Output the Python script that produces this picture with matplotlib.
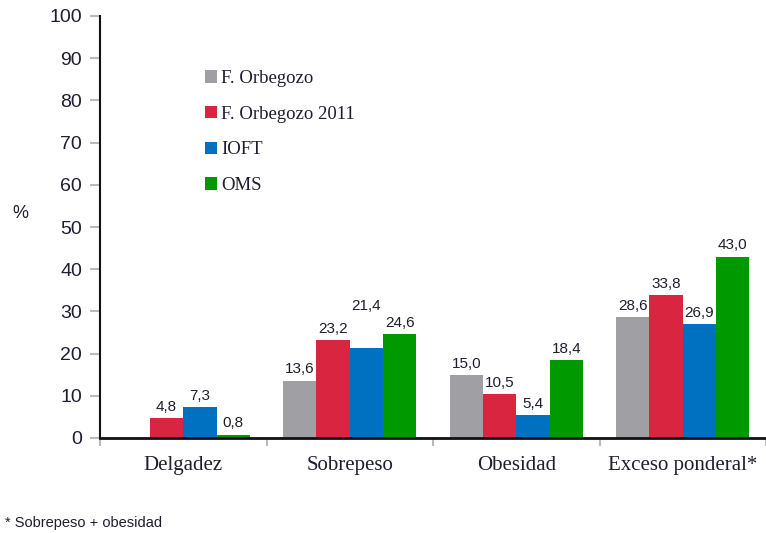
import numpy as np
import matplotlib
matplotlib.use("Agg")
import matplotlib.pyplot as plt

# datos (%), NaN = sin dato
categorias = ["Delgadez", "Sobrepeso", "Obesidad", "Exceso ponderal*"]
series = ["F. Orbegozo", "F. Orbegozo 2011", "IOFT", "OMS"]
f_orbegozo = [np.nan, 13.6, 15.0, 28.6]
f_orbegozo_2011 = [4.8, 23.2, 10.5, 33.8]
ioft = [7.3, 21.4, 5.4, 26.9]
oms = [0.8, 24.6, 18.4, 43.0]
valores = [f_orbegozo, f_orbegozo_2011, ioft, oms]
colores = ["#A09FA3", "#DA2540", "#0070C0", "#009A00"]

# etiqueta que va desplazada hacia arriba para no pisar las vecinas
desplazar = {(2, 1): 22}

texto = "#1E1E2E"
serif = "Liberation Serif"
sans = "Liberation Sans"

W, H = 766, 533
fig = plt.figure(figsize=(W / 100, H / 100), dpi=100)
ax = fig.add_axes([100 / W, (H - 438) / H, 666 / W, (438 - 16) / H])

x = np.arange(len(categorias))
ancho = 0.2
barras = []
for i, (nombre, vals, col) in enumerate(zip(series, valores, colores)):
    pos = x - 0.3 + i * ancho
    b = ax.bar(pos, vals, width=ancho, color=col, label=nombre, zorder=2)
    barras.append(b)
    for j, v in enumerate(vals):
        if np.isnan(v):
            continue
        extra = desplazar.get((i, j), 0)
        ax.annotate(f"{v:.1f}".replace(".", ","), (pos[j], v),
                    xytext=(0, 3 + extra), textcoords="offset points",
                    ha="center", va="bottom", fontsize=11, family=sans,
                    color=texto)

ax.set_ylim(0, 100)
ax.set_yticks(np.arange(0, 101, 10))
ax.set_xlim(-0.5, -0.5 + 666 / 167.5)

# marcas del eje x entre categorías, etiquetas en el centro
ax.set_xticks(np.arange(len(categorias) + 1) - 0.5)
ax.set_xticklabels([])
ax.set_xticks(x, minor=True)
ax.set_xticklabels(categorias, minor=True, fontsize=15, family=serif, color=texto)
ax.tick_params(axis="x", which="minor", length=0, pad=13)
ax.tick_params(axis="x", which="major", length=6, color="#BBBBBB", width=1.5)
ax.tick_params(axis="y", length=7, color="#BBBBBB", width=1.5, pad=6,
               labelsize=14, labelcolor=texto)
for t in ax.get_yticklabels():
    t.set_family(sans)

for s in ["top", "right"]:
    ax.spines[s].set_visible(False)
ax.spines["left"].set_linewidth(1.5)
ax.spines["bottom"].set_linewidth(2)
ax.spines["left"].set_color("#111111")
ax.spines["bottom"].set_color("#111111")

fig.text(12 / W, 1 - 214 / H, "%", fontsize=13, family=sans, color=texto,
         va="center")

ax.legend(handles=barras, loc="upper left",
          bbox_to_anchor=(205 / W, 1 - 70 / H), bbox_transform=fig.transFigure,
          frameon=False, prop={"family": serif, "size": 13.5},
          handlelength=0.65, handleheight=0.65, handletextpad=0.2,
          labelspacing=1.0, borderpad=0, borderaxespad=0,
          labelcolor=texto)

fig.text(5 / W, 1 - 523 / H, "* Sobrepeso + obesidad", fontsize=10.5,
         family=sans, color=texto, va="center")

fig.savefig("out.png", dpi=100, facecolor="white")
